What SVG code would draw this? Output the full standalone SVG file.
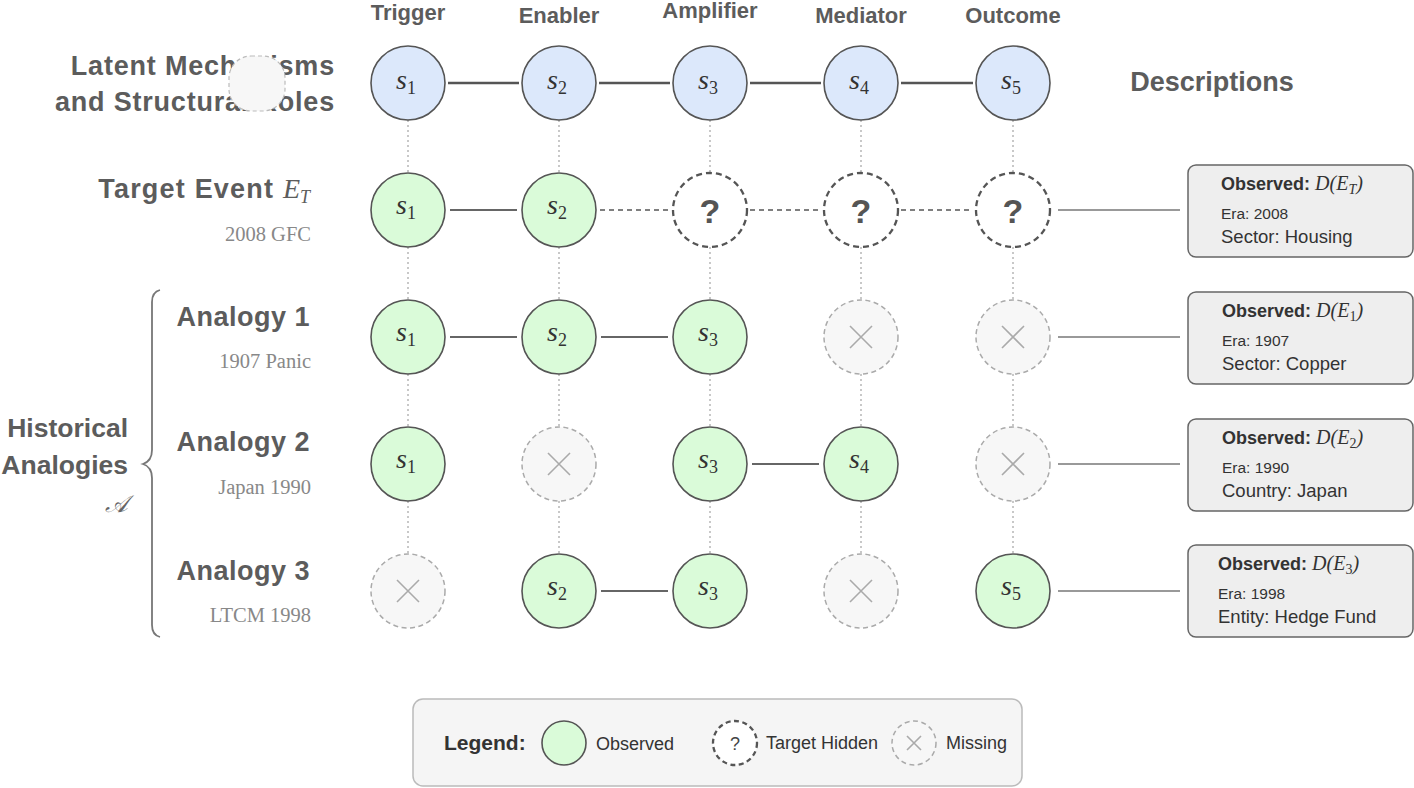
<svg xmlns="http://www.w3.org/2000/svg" width="1414" height="788" viewBox="0 0 1414 788">
<style>
.hdr{font-family:"Liberation Sans",Arial,sans-serif;font-weight:bold;fill:#5c5c5c}
.col{font-size:22px;text-anchor:middle}
.big{font-size:27px;letter-spacing:0.5px}
.sub{font-family:"Liberation Serif","Times New Roman",serif;font-size:20.5px;fill:#888;text-anchor:end}
.math{font-family:"Liberation Serif","Times New Roman",serif;font-style:italic;fill:#333}
.mnum{font-family:"Liberation Serif","Times New Roman",serif;font-style:normal;fill:#333}
.blue{fill:#dce8fb;stroke:#555;stroke-width:1.6}
.obs{fill:#dafbd9;stroke:#555;stroke-width:1.6}
.hid{fill:#fff;stroke:#555;stroke-width:2.3;stroke-dasharray:6 4}
.mis{fill:#f7f7f7;stroke:#aaa;stroke-width:1.5;stroke-dasharray:5 3.5}
.x{stroke:#aaa;stroke-width:1.6}
.q{font-family:"Liberation Sans",Arial,sans-serif;font-weight:bold;font-size:34px;fill:#555;text-anchor:middle}
.dot{stroke:#bbb;stroke-width:1.6;stroke-dasharray:2 3}
.solid{stroke:#666;stroke-width:2}
.solidT{stroke:#555;stroke-width:2.5}
.dash{stroke:#555;stroke-width:1.6;stroke-dasharray:5 4}
.toBox{stroke:#999;stroke-width:2}
.box{fill:#eeeeee;stroke:#666;stroke-width:1.5}
.bt{font-family:"Liberation Sans",Arial,sans-serif;fill:#333}
.obsLbl{font-weight:bold;font-size:18px}
.era{font-size:15.5px}
.line{font-size:18.5px}
.leg{font-family:"Liberation Sans",Arial,sans-serif;font-size:18px;fill:#333}
</style>

<!-- Column headers -->
<g id="headers" class="hdr">
<text class="col" x="408" y="20">Trigger</text>
<text class="col" x="559" y="23">Enabler</text>
<text class="col" x="710" y="18">Amplifier</text>
<text class="col" x="861" y="23">Mediator</text>
<text class="col" x="1013" y="23">Outcome</text>
</g>

<!-- Row labels -->
<g id="row-labels">
<text class="hdr" x="335" y="75" font-size="27" text-anchor="end" letter-spacing="0.8">Latent Mechanisms</text>
<text class="hdr" x="335" y="111" font-size="27" text-anchor="end" letter-spacing="0.8">and Structural Roles</text>
<text class="hdr" x="1212" y="91" font-size="27" text-anchor="middle">Descriptions</text>
<text x="310" y="198" text-anchor="end"><tspan class="hdr" font-size="27" letter-spacing="1.2">Target Event </tspan><tspan class="math" font-size="28" style="fill:#5c5c5c">E</tspan><tspan class="math" font-size="18" dy="5" style="fill:#5c5c5c">T</tspan></text>
<text class="sub" x="311" y="241">2008 GFC</text>
<text class="hdr big" x="310" y="326" text-anchor="end">Analogy 1</text>
<text class="sub" x="311" y="368">1907 Panic</text>
<text class="hdr big" x="310" y="451" text-anchor="end">Analogy 2</text>
<text class="sub" x="311" y="494">Japan 1990</text>
<text class="hdr big" x="310" y="580" text-anchor="end">Analogy 3</text>
<text class="sub" x="311" y="622">LTCM 1998</text>
<text class="hdr" x="128" y="437" font-size="26.5" text-anchor="end">Historical</text>
<text class="hdr" x="128" y="474" font-size="26.5" text-anchor="end">Analogies</text>
<text class="math" x="128" y="512" font-size="24" text-anchor="end" style="fill:#666;font-family:'DejaVu Serif','Liberation Serif',serif">𝒜</text>
</g>

<!-- Brace -->
<g id="brace">
<path d="M160,290 Q152,292 152,302 L152,450 Q152,461 143,464 Q152,467 152,478 L152,625 Q152,635 160,637" fill="none" stroke="#777" stroke-width="1.8"/>
</g>

<!-- Connectors -->
<g id="connectors">
<line class="dot" x1="408" y1="120" x2="408" y2="173"/>
<line class="dot" x1="559" y1="120" x2="559" y2="173"/>
<line class="dot" x1="710" y1="120" x2="710" y2="173"/>
<line class="dot" x1="861" y1="120" x2="861" y2="173"/>
<line class="dot" x1="1013" y1="120" x2="1013" y2="173"/>
<line class="dot" x1="408" y1="247" x2="408" y2="300"/>
<line class="dot" x1="559" y1="247" x2="559" y2="300"/>
<line class="dot" x1="710" y1="247" x2="710" y2="300"/>
<line class="dot" x1="861" y1="247" x2="861" y2="300"/>
<line class="dot" x1="1013" y1="247" x2="1013" y2="300"/>
<line class="dot" x1="408" y1="374" x2="408" y2="427"/>
<line class="dot" x1="559" y1="374" x2="559" y2="427"/>
<line class="dot" x1="710" y1="374" x2="710" y2="427"/>
<line class="dot" x1="861" y1="374" x2="861" y2="427"/>
<line class="dot" x1="1013" y1="374" x2="1013" y2="427"/>
<line class="dot" x1="408" y1="501" x2="408" y2="554"/>
<line class="dot" x1="559" y1="501" x2="559" y2="554"/>
<line class="dot" x1="710" y1="501" x2="710" y2="554"/>
<line class="dot" x1="861" y1="501" x2="861" y2="554"/>
<line class="dot" x1="1013" y1="501" x2="1013" y2="554"/>
<line class="solidT" x1="448" y1="83" x2="519" y2="83"/>
<line class="solidT" x1="599" y1="83" x2="670" y2="83"/>
<line class="solidT" x1="750" y1="83" x2="821" y2="83"/>
<line class="solidT" x1="901" y1="83" x2="973" y2="83"/>
<line class="solid" x1="450" y1="210" x2="517" y2="210"/>
<line class="dash" x1="600" y1="210" x2="670" y2="210"/>
<line class="dash" x1="750" y1="210" x2="822" y2="210"/>
<line class="dash" x1="901" y1="210" x2="973" y2="210"/>
<line class="toBox" x1="1058" y1="210" x2="1180" y2="210"/>
<line class="solid" x1="450" y1="337" x2="517" y2="337"/>
<line class="solid" x1="601" y1="337" x2="668" y2="337"/>
<line class="toBox" x1="1058" y1="337" x2="1180" y2="337"/>
<line class="solid" x1="752" y1="464" x2="819" y2="464"/>
<line class="toBox" x1="1058" y1="464" x2="1180" y2="464"/>
<line class="solid" x1="601" y1="591" x2="668" y2="591"/>
<line class="toBox" x1="1058" y1="591" x2="1180" y2="591"/>
</g>

<!-- Latent nodes -->
<g id="latent-s1"><circle class="blue" cx="408" cy="83" r="37"/><text class="math" x="396" y="89" font-size="28">s<tspan class="mnum" font-size="18" dy="5">1</tspan></text></g>
<g id="latent-s2"><circle class="blue" cx="559" cy="83" r="37"/><text class="math" x="547" y="89" font-size="28">s<tspan class="mnum" font-size="18" dy="5">2</tspan></text></g>
<g id="latent-s3"><circle class="blue" cx="710" cy="83" r="37"/><text class="math" x="698" y="89" font-size="28">s<tspan class="mnum" font-size="18" dy="5">3</tspan></text></g>
<g id="latent-s4"><circle class="blue" cx="861" cy="83" r="37"/><text class="math" x="849" y="89" font-size="28">s<tspan class="mnum" font-size="18" dy="5">4</tspan></text></g>
<g id="latent-s5"><circle class="blue" cx="1013" cy="83" r="37"/><text class="math" x="1001" y="89" font-size="28">s<tspan class="mnum" font-size="18" dy="5">5</tspan></text></g>

<!-- Target row -->
<g id="target-s1"><circle class="obs" cx="408" cy="210" r="37"/><text class="math" x="396" y="214" font-size="28">s<tspan class="mnum" font-size="18" dy="5">1</tspan></text></g>
<g id="target-s2"><circle class="obs" cx="559" cy="210" r="37"/><text class="math" x="547" y="214" font-size="28">s<tspan class="mnum" font-size="18" dy="5">2</tspan></text></g>
<g id="target-s3"><circle class="hid" cx="710" cy="210" r="37"/><text class="q" x="710" y="223">?</text></g>
<g id="target-s4"><circle class="hid" cx="861" cy="210" r="37"/><text class="q" x="861" y="223">?</text></g>
<g id="target-s5"><circle class="hid" cx="1013" cy="210" r="37"/><text class="q" x="1013" y="223">?</text></g>

<!-- Analogy 1 -->
<g id="a1-s1"><circle class="obs" cx="408" cy="337" r="37"/><text class="math" x="396" y="341" font-size="28">s<tspan class="mnum" font-size="18" dy="5">1</tspan></text></g>
<g id="a1-s2"><circle class="obs" cx="559" cy="337" r="37"/><text class="math" x="547" y="341" font-size="28">s<tspan class="mnum" font-size="18" dy="5">2</tspan></text></g>
<g id="a1-s3"><circle class="obs" cx="710" cy="337" r="37"/><text class="math" x="698" y="341" font-size="28">s<tspan class="mnum" font-size="18" dy="5">3</tspan></text></g>
<g id="a1-s4"><circle class="mis" cx="861" cy="337" r="37"/><path class="x" d="M850,326 L872,348 M872,326 L850,348"/></g>
<g id="a1-s5"><circle class="mis" cx="1013" cy="337" r="37"/><path class="x" d="M1002,326 L1024,348 M1024,326 L1002,348"/></g>

<!-- Analogy 2 -->
<g id="a2-s1"><circle class="obs" cx="408" cy="464" r="37"/><text class="math" x="396" y="468" font-size="28">s<tspan class="mnum" font-size="18" dy="5">1</tspan></text></g>
<g id="a2-s2"><circle class="mis" cx="559" cy="464" r="37"/><path class="x" d="M548,453 L570,475 M570,453 L548,475"/></g>
<g id="a2-s3"><circle class="obs" cx="710" cy="464" r="37"/><text class="math" x="698" y="468" font-size="28">s<tspan class="mnum" font-size="18" dy="5">3</tspan></text></g>
<g id="a2-s4"><circle class="obs" cx="861" cy="464" r="37"/><text class="math" x="849" y="468" font-size="28">s<tspan class="mnum" font-size="18" dy="5">4</tspan></text></g>
<g id="a2-s5"><circle class="mis" cx="1013" cy="464" r="37"/><path class="x" d="M1002,453 L1024,475 M1024,453 L1002,475"/></g>

<!-- Analogy 3 -->
<g id="a3-s1"><circle class="mis" cx="408" cy="591" r="37"/><path class="x" d="M397,580 L419,602 M419,580 L397,602"/></g>
<g id="a3-s2"><circle class="obs" cx="559" cy="591" r="37"/><text class="math" x="547" y="595" font-size="28">s<tspan class="mnum" font-size="18" dy="5">2</tspan></text></g>
<g id="a3-s3"><circle class="obs" cx="710" cy="591" r="37"/><text class="math" x="698" y="595" font-size="28">s<tspan class="mnum" font-size="18" dy="5">3</tspan></text></g>
<g id="a3-s4"><circle class="mis" cx="861" cy="591" r="37"/><path class="x" d="M850,580 L872,602 M872,580 L850,602"/></g>
<g id="a3-s5"><circle class="obs" cx="1013" cy="591" r="37"/><text class="math" x="1001" y="595" font-size="28">s<tspan class="mnum" font-size="18" dy="5">5</tspan></text></g>

<!-- Description boxes -->
<g id="desc-target">
<rect class="box" x="1188" y="165" width="225" height="92" rx="8"/>
<text class="bt" x="1221" y="190"><tspan class="obsLbl">Observed: </tspan><tspan class="math" font-size="20">D(E</tspan><tspan class="math" font-size="14" dy="4">T</tspan><tspan class="math" font-size="20" dy="-4">)</tspan></text>
<text class="bt era" x="1221" y="219">Era: 2008</text>
<text class="bt line" x="1221" y="243">Sector: Housing</text>
</g>
<g id="desc-a1">
<rect class="box" x="1188" y="292" width="225" height="92" rx="8"/>
<text class="bt" x="1222" y="317"><tspan class="obsLbl">Observed: </tspan><tspan class="math" font-size="20">D(E</tspan><tspan class="mnum" font-size="14" dy="4">1</tspan><tspan class="math" font-size="20" dy="-4">)</tspan></text>
<text class="bt era" x="1222" y="346">Era: 1907</text>
<text class="bt line" x="1222" y="370">Sector: Copper</text>
</g>
<g id="desc-a2">
<rect class="box" x="1188" y="419" width="225" height="92" rx="8"/>
<text class="bt" x="1222" y="444"><tspan class="obsLbl">Observed: </tspan><tspan class="math" font-size="20">D(E</tspan><tspan class="mnum" font-size="14" dy="4">2</tspan><tspan class="math" font-size="20" dy="-4">)</tspan></text>
<text class="bt era" x="1222" y="473">Era: 1990</text>
<text class="bt line" x="1222" y="497">Country: Japan</text>
</g>
<g id="desc-a3">
<rect class="box" x="1188" y="545" width="225" height="92" rx="8"/>
<text class="bt" x="1218" y="570"><tspan class="obsLbl">Observed: </tspan><tspan class="math" font-size="20">D(E</tspan><tspan class="mnum" font-size="14" dy="4">3</tspan><tspan class="math" font-size="20" dy="-4">)</tspan></text>
<text class="bt era" x="1218" y="599">Era: 1998</text>
<text class="bt line" x="1218" y="623">Entity: Hedge Fund</text>
</g>

<!-- Stray placeholder shape over label -->
<g id="stray-node">
<rect x="229" y="56" width="56" height="55" rx="22" fill="#f7f7f7" stroke="#bbb" stroke-width="1.2" stroke-dasharray="4 3"/>
</g>

<!-- Legend -->
<g id="legend">
<rect x="413" y="699" width="609" height="87" rx="10" fill="#f5f5f5" stroke="#bbb" stroke-width="1.5"/>
<text class="hdr" x="444" y="750" font-size="21" style="fill:#333">Legend:</text>
<circle class="obs" cx="564" cy="743" r="22"/>
<text class="leg" x="596" y="750" font-size="17">Observed</text>
<circle class="hid" cx="735" cy="743" r="22" style="stroke-dasharray:5 3.5"/>
<text class="leg" x="735" y="750" font-size="20" text-anchor="middle" style="fill:#444">?</text>
<text class="leg" x="766" y="749">Target Hidden</text>
<circle class="mis" cx="914" cy="743" r="22"/>
<path class="x" d="M907,736 L921,750 M921,736 L907,750"/>
<text class="leg" x="946" y="749">Missing</text>
</g>
</svg>
